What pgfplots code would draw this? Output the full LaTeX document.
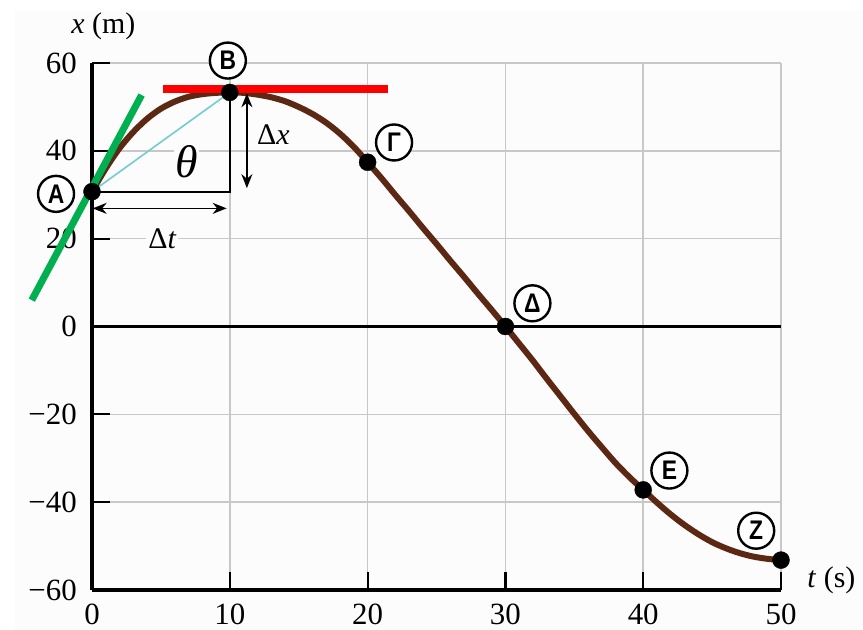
\documentclass[border=0pt]{standalone}
\usepackage{fontspec}
\setmainfont{Liberation Serif}
\usepackage{pgfplots}
\pgfplotsset{compat=1.18}
\usetikzlibrary{arrows.meta}
\newfontfamily\circfont[FakeStretch=0.85]{Liberation Sans}
\definecolor{curvebrown}{RGB}{92,40,20}
\definecolor{tangentgreen}{RGB}{0,176,80}
\definecolor{chordcyan}{RGB}{114,204,208}
\definecolor{gridgray}{RGB}{200,200,200}
\definecolor{paper}{RGB}{252,252,252}

% position x (m) against time t (s)
\pgfplotstableread{
t x
0 30.7
1 36.0
2 40.6
3 44.3
4 47.3
5 49.6
6 51.2
7 52.3
8 52.9
9 53.2
10 53.3
11 53.2
12 52.8
13 52.2
14 51.3
15 50.0
16 48.4
17 46.4
18 43.9
19 40.9
20 37.4
21 33.8
22 30.0
23 26.3
24 22.5
25 18.8
26 15.0
27 11.3
28 7.5
29 3.8
30 0
31 -3.9
32 -7.8
33 -11.9
34 -15.9
35 -19.9
36 -23.8
37 -27.5
38 -31.1
39 -34.3
40 -37.2
41 -40.1
42 -42.8
43 -45.2
44 -47.3
45 -49.1
46 -50.5
47 -51.6
48 -52.4
49 -52.9
50 -53.2
}\position

\pgfplotstableread{
t x
0 30.7
10 53.3
20 37.4
30 0
40 -37.2
50 -53.2
}\instants

\tikzset{
  clabel/.style={circle, draw=black, line width=2.4bp, fill=white,
    minimum size=36bp, inner sep=0pt,
    font=\circfont\bfseries\fontsize{27}{27}\selectfont},
  dimarrow/.style={black, line width=1.6bp,
    {Stealth[length=14bp,width=11bp]}-{Stealth[length=14bp,width=11bp]}},
  lab/.style={font=\fontsize{30}{36}\selectfont},
}

\begin{document}
\begin{tikzpicture}
\useasboundingbox (-92bp,-40bp) rectangle (771bp,590bp);
\fill[white] (-92bp,-40bp) rectangle (771bp,590bp);
\fill[paper] (-77bp,-40bp) rectangle (771bp,580bp);
\begin{axis}[
  scale only axis, width=689bp, height=527bp,
  xmin=0, xmax=50, ymin=-60, ymax=60,
  axis x line=bottom, axis y line=left,
  axis line style={-, line width=3.2bp, black},
  xtick={0,10,...,50}, ytick={-60,-40,...,60},
  yticklabels={−60,−40,−20,0,20,40,60},
  /pgf/number format/assume math mode=true,
  tick align=inside, major tick length=18bp,
  tick style={black, line width=2.2bp},
  grid=major, grid style={gridgray, line width=1.6bp},
  ticklabel style={font=\fontsize{31}{36}\selectfont},
  xticklabel style={anchor=north, inner sep=0pt, yshift=-14bp},
  yticklabel style={anchor=east, inner sep=0pt, xshift=-15bp},
  clip=false,
]
% time axis at x = 0
\addplot[black, line width=2.4bp] coordinates {(0,0) (50,0)};
% chord A-B with its right triangle and angle
\addplot[chordcyan, line width=1.6bp] coordinates {(0,30.7) (10,53.3)};
\addplot[black, line width=1.9bp] coordinates {(0,30.7) (10,30.7) (10,53.3)};
\draw[black, line width=1.6bp] (axis cs:0,30.7) ++(74bp,0)
  arc[start angle=0, end angle=35.8, radius=74bp];
\node[fill=paper, inner sep=1bp, font=\fontsize{46}{50}\selectfont]
  at (axis cs:6.85,37.6) {\textit{θ}};
% the motion
\addplot[curvebrown, line width=6bp, smooth] table {\position};
\addplot[only marks, mark=*, mark size=8.5bp, black] table {\instants};
% tangents at A and at B
\addplot[tangentgreen, line width=7bp] coordinates {(-4.37,6.0) (3.6,52.7)};
\addplot[red, line width=8bp] coordinates {(5.17,54.06) (21.5,54.06)};
% displacement and time interval
\draw[dimarrow] (axis cs:11.24,53.1) -- (axis cs:11.24,31.5);
\draw[dimarrow] (axis cs:0.05,26.9) -- (axis cs:9.77,26.9);
\node[lab] at (axis cs:13.16,43.6) {Δ\textit{x}};
\node[lab, fill=paper, inner sep=2bp] at (axis cs:5.11,19.9) {Δ\textit{t}};
% instants
\node[clabel] at (axis cs:-2.61,30.2) {A};
\node[clabel] at (axis cs:9.86,60.55) {B};
\node[clabel] at (axis cs:21.92,41.9) {Γ};
\node[clabel] at (axis cs:31.96,5.28) {Δ};
\node[clabel] at (axis cs:41.9,-32.8) {E};
\node[clabel] at (axis cs:48.2,-46.5) {Z};
% axis titles
\node[lab] at (axis cs:0.83,68.4) {\textit{x} (m)};
\node[lab] at (axis cs:53.66,-57.7) {\textit{t} (s)};
\end{axis}
\end{tikzpicture}
\end{document}
